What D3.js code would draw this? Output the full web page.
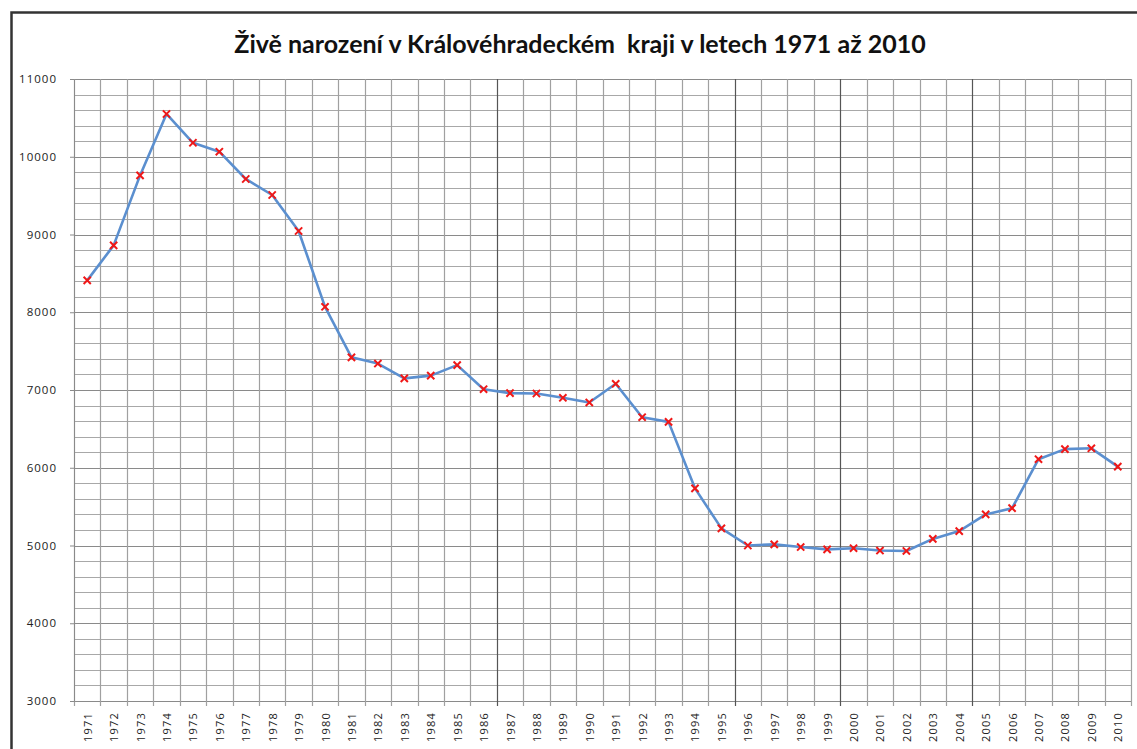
<!DOCTYPE html>
<html>
<head>
<meta charset="utf-8">
<script src="https://cdn.jsdelivr.net/npm/d3@7"></script>
<style>
  body { margin: 0; background: #fff; }
  svg { display: block; }
</style>
</head>
<body>
<div id="chart"></div>
<script>
'use strict';

const years = d3.range(1971, 2011).map(String);
const births = [
  8410, 8860, 9760, 10550, 10180, 10065, 9714, 9508, 9045, 8070,
  7420, 7340, 7150, 7185, 7320, 7010, 6960, 6955, 6900, 6840,
  7080, 6650, 6590, 5735, 5220, 5000, 5015, 4980, 4950, 4965,
  4935, 4930, 5085, 5185, 5400, 5480, 6110, 6240, 6250, 6015
];
const yTicks = [3000, 4000, 5000, 6000, 7000, 8000, 9000, 10000, 11000];
// category boundaries that look darker in the picture (after these years)
const darkAfter = ["1986", "1995", "1999", "2004"];
const title = "Živě narození v Královéhradeckém  kraji v letech 1971 až 2010";

const W = 1137, H = 749;
const margin = {top: 79, right: 6, bottom: 48, left: 74};

const svg = d3.select("#chart").append("svg")
  .attr("width", W)
  .attr("height", H);

// outer frame (only left and top edges are inside the picture)
svg.append("path")
  .attr("d", "M11.5," + H + "V12.5H" + W)
  .attr("fill", "none")
  .attr("stroke", "#333")
  .attr("stroke-width", 2.5);

svg.append("text")
  .attr("x", 580)
  .attr("y", 53)
  .attr("text-anchor", "middle")
  .attr("font-family", "Lato, 'Open Sans', sans-serif")
  .attr("font-weight", "bold")
  .attr("font-size", 25)
  .attr("fill", "#111")
  .style("white-space", "pre")
  .text(title);

const x = d3.scaleBand()
  .domain(years)
  .range([margin.left, W - margin.right]);

const y = d3.scaleLinear()
  .domain([3000, 11000])
  .range([H - margin.bottom, margin.top]);

const g = svg.append("g");

// horizontal grid (every 200)
const minor = d3.range(3000, 11001, 200);
g.selectAll("line.hgrid").data(minor).join("line")
  .attr("class", "hgrid")
  .attr("x1", margin.left)
  .attr("x2", W - margin.right)
  .attr("y1", d => Math.round(y(d)) + 0.5)
  .attr("y2", d => Math.round(y(d)) + 0.5)
  .attr("stroke", d => d % 1000 === 0 ? "#8a8a8a" : "#a8a8a8")
  .attr("stroke-width", 1.2);

// vertical grid at category boundaries
const bounds = years.map(d => x(d)).concat([x.range()[1]]);
g.selectAll("line.vgrid").data(bounds).join("line")
  .attr("class", "vgrid")
  .attr("x1", d => Math.round(d) + 0.5)
  .attr("x2", d => Math.round(d) + 0.5)
  .attr("y1", margin.top)
  .attr("y2", H - margin.bottom + 5)
  .attr("stroke", (d, i) => (i > 0 && darkAfter.includes(years[i - 1])) ? "#555" : "#a0a0a0")
  .attr("stroke-width", 1.2);

// y axis
const yAxis = svg.append("g")
  .attr("transform", "translate(" + margin.left + ",0)")
  .call(d3.axisLeft(y).tickValues(yTicks).tickSize(4).tickPadding(13).tickFormat(d3.format("d")));
yAxis.select(".domain").attr("stroke", "#8a8a8a");
yAxis.selectAll(".tick line").attr("stroke", "#8a8a8a");
yAxis.selectAll(".tick text")
  .attr("font-family", "'Open Sans', 'DejaVu Sans', sans-serif")
  .attr("font-size", 11.5)
  .attr("letter-spacing", 1)
  .attr("fill", "#222");

// x labels
svg.append("g").selectAll("text").data(years).join("text")
  .attr("transform", d => "translate(" + (x(d) + x.bandwidth() / 2 + 4.5) + "," + (H - margin.bottom + 11) + ") rotate(-90)")
  .attr("text-anchor", "end")
  .attr("font-family", "'Open Sans', 'DejaVu Sans', sans-serif")
  .attr("font-size", 11)
  .attr("letter-spacing", 1.2)
  .attr("fill", "#222")
  .text(d => d);

// line
const cx = (d, i) => x(years[i]) + x.bandwidth() / 2;
const line = d3.line()
  .x(cx)
  .y(d => y(d));

svg.append("path")
  .datum(births)
  .attr("fill", "none")
  .attr("stroke", "#5b8fcf")
  .attr("stroke-width", 2.6)
  .attr("stroke-linejoin", "round")
  .attr("d", line);

// x markers drawn as two strokes
const r = 3.6;
svg.append("g").selectAll("path").data(births).join("path")
  .attr("transform", (d, i) => "translate(" + cx(d, i) + "," + y(d) + ")")
  .attr("d", "M" + (-r) + "," + (-r) + "L" + r + "," + r + "M" + (-r) + "," + r + "L" + r + "," + (-r))
  .attr("fill", "none")
  .attr("stroke", "#f01818")
  .attr("stroke-width", 2);
</script>
</body>
</html>
